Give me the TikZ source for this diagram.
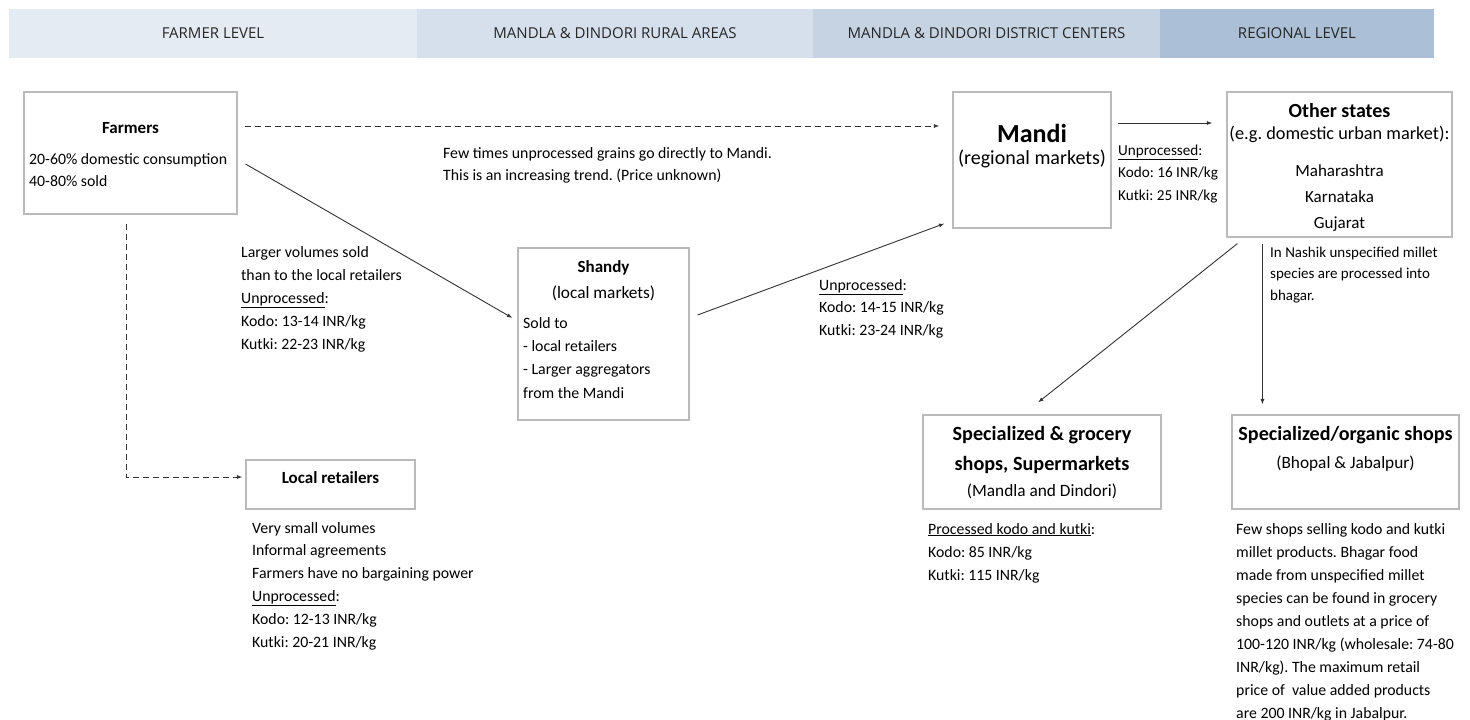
\documentclass[tikz,border=0pt]{standalone}
\usepackage{fontspec}
\setmainfont{Carlito}
\newfontfamily\headfont{Open Sans}
\usetikzlibrary{positioning,arrows.meta}
\definecolor{hdrA}{RGB}{229,235,243}
\definecolor{hdrB}{RGB}{214,224,236}
\definecolor{hdrC}{RGB}{197,211,227}
\definecolor{hdrD}{RGB}{171,191,215}
\frenchspacing

\begin{document}
\begin{tikzpicture}[
  x=1pt, y=-1pt,
  >={Latex[length=5.5pt,width=4pt]},
  box/.style={draw=black!27, line width=1.1pt, fill=white, inner sep=0pt},
  hdr/.style={inner sep=0pt, minimum height=49, text=black!85,
              font=\headfont\fontsize{15}{18}\selectfont},
  ttl/.style={anchor=base, inner sep=0pt, font=\bfseries\fontsize{17}{20}\selectfont},
  sub/.style={anchor=base, inner sep=0pt, font=\fontsize{17.3}{20}\selectfont},
  txt/.style={anchor=base west, align=left, inner sep=0pt,
              font=\fontsize{15.8}{23}\selectfont},
  flow/.style={->, line width=0.9pt, draw=black!80},
  dflow/.style={flow, dash pattern=on 6pt off 4pt},
]
\fill[white] (0,0) rectangle (1470,720);
\useasboundingbox (0,0) rectangle (1470,720);

% header band
\node[hdr, fill=hdrA, minimum width=408] (hFarm)  at (213,33.5)   {FARMER LEVEL};
\node[hdr, fill=hdrB, minimum width=396] (hRural) at (615,33.5)   {MANDLA \& DINDORI RURAL AREAS};
\node[hdr, fill=hdrC, minimum width=347] (hDist)  at (986.5,33.5) {MANDLA \& DINDORI DISTRICT CENTERS};
\node[hdr, fill=hdrD, minimum width=274] (hReg)   at (1297,33.5)  {REGIONAL LEVEL};

% boxes
\node[box, minimum width=213, minimum height=122] (farmers) at (130.5,153)  {};
\node[box, minimum width=171, minimum height=172] (shandy)  at (603.5,334)  {};
\node[box, minimum width=158, minimum height=136] (mandi)   at (1032,160)   {};
\node[box, minimum width=225, minimum height=145] (other)   at (1339.5,164.5) {};
\node[box, minimum width=169, minimum height=49]  (locret)  at (330.5,484.5) {};
\node[box, minimum width=238, minimum height=94]  (grocery) at (1042,462)   {};
\node[box, minimum width=227, minimum height=94]  (organic) at (1345.5,462) {};

% box texts (multi-line nodes sit on their last baseline)
\node[ttl] (farmersT) at (130.5,133) {Farmers};
\node[txt, font=\fontsize{15.8}{22}\selectfont] (farmersN) at (29,186)
     {20-60\% domestic consumption\\40-80\% sold};
\node[ttl] (shandyT) at (603.5,272) {Shandy};
\node[sub] (shandyS) at (603.5,298) {(local markets)};
\node[txt, font=\fontsize{15.8}{23.3}\selectfont] (shandyN) at (523,398)
     {Sold to\\- local retailers\\- Larger aggregators\\from the Mandi};
\node[ttl, font=\bfseries\fontsize{26}{30}\selectfont] (mandiT) at (1032,142) {Mandi};
\node[sub, font=\fontsize{20}{24}\selectfont] (mandiS) at (1032,164) {(regional markets)};
\node[ttl, font=\bfseries\fontsize{20}{24}\selectfont] (otherT) at (1339.5,117) {Other states};
\node[sub, font=\fontsize{18.3}{22}\selectfont] (otherS) at (1339.5,139) {(e.g. domestic urban market):};
\node[sub, align=center, font=\fontsize{17}{26}\selectfont] (otherN) at (1339.5,228)
     {Maharashtra\\Karnataka\\Gujarat};
\node[ttl] (locretT) at (330.5,483) {Local retailers};
\node[ttl, align=center, font=\bfseries\fontsize{20.2}{30}\selectfont] (groceryT) at (1042,470)
     {Specialized \& grocery\\shops, Supermarkets};
\node[sub] (groceryS) at (1042,496) {(Mandla and Dindori)};
\node[ttl, font=\bfseries\fontsize{20.1}{24}\selectfont] (organicT) at (1345.5,440) {Specialized/organic shops};
\node[sub] (organicS) at (1345.5,468) {(Bhopal \& Jabalpur)};

% flow labels
\node[txt] (toShandy) at (241,349)
     {Larger volumes sold\\than to the local retailers\\\underline{Unprocessed}:\\Kodo: 13-14 INR/kg\\Kutki: 22-23 INR/kg};
\node[txt, font=\fontsize{15.8}{22}\selectfont] (toMandi) at (443,180)
     {Few times unprocessed grains go directly to Mandi.\\This is an increasing trend. (Price unknown)};
\node[txt, font=\fontsize{15.8}{22.5}\selectfont] (shandyMandi) at (819,335)
     {\underline{Unprocessed}:\\Kodo: 14-15 INR/kg\\Kutki: 23-24 INR/kg};
\node[txt, font=\fontsize{15.2}{22.5}\selectfont] (mandiOther) at (1118,200)
     {\underline{Unprocessed}:\\Kodo: 16 INR/kg\\Kutki: 25 INR/kg};
\node[txt, font=\fontsize{15}{21.5}\selectfont] (nashik) at (1270,300)
     {In Nashik unspecified millet\\species are processed into\\bhagar.};
\node[txt, font=\fontsize{15.8}{22.8}\selectfont] (locretN) at (252,647)
     {Very small volumes\\Informal agreements\\Farmers have no bargaining power\\\underline{Unprocessed}:\\Kodo: 12-13 INR/kg\\Kutki: 20-21 INR/kg};
\node[txt] (groceryN) at (928,580)
     {\underline{Processed kodo and kutki}:\\Kodo: 85 INR/kg\\Kutki: 115 INR/kg};
\node[txt] (organicN) at (1236,718)
     {Few shops selling kodo and kutki\\millet products. Bhagar food\\made from unspecified millet\\species can be found in grocery\\shops and outlets at a price of\\100-120 INR/kg (wholesale: 74-80\\INR/kg). The maximum retail\\price of\ \ value added products\\are 200 INR/kg in Jabalpur.};

% connectors
\draw[dflow] ([xshift=7,yshift=27]farmers.east) -- ([xshift=-13,yshift=34]mandi.west);
\draw[flow] ([xshift=8,yshift=-11]farmers.east) -- ([xshift=-5,yshift=16]shandy.west);
\draw[dflow] ([xshift=-4.5,yshift=-9]farmers.south) |- ([xshift=-3,yshift=7.5]locret.west);
\draw[flow] ([xshift=8,yshift=19]shandy.east) -- ([xshift=-8,yshift=5]mandi.south west);
\draw[flow] ([xshift=6,yshift=37]mandi.east) -- ([xshift=-14,yshift=41.5]other.west);
\draw[flow] ([xshift=11,yshift=-6]other.south west) -- ([xshift=-4,yshift=12]grocery.north);
\draw[flow] ([xshift=36,yshift=-6]other.south west) -- ([xshift=31,yshift=10]organic.north west);
\end{tikzpicture}
\end{document}
